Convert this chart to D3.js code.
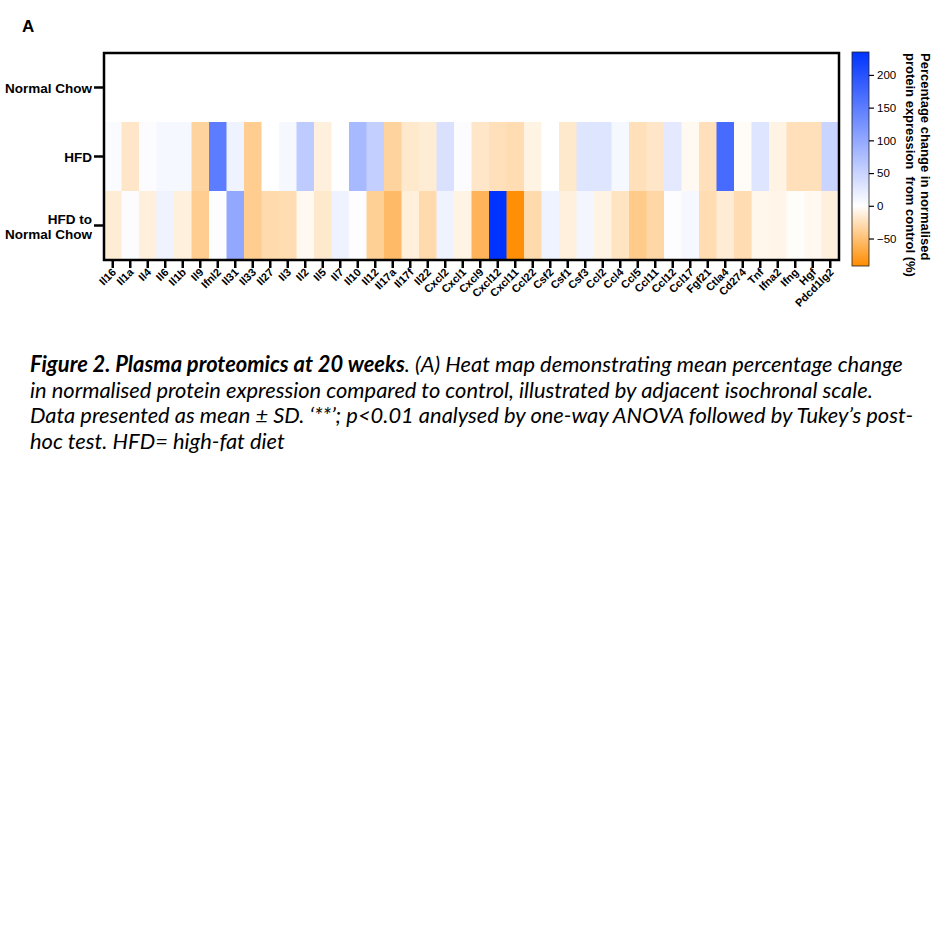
<!DOCTYPE html>
<html><head><meta charset="utf-8">
<script src="https://cdn.jsdelivr.net/npm/d3@7"></script>
<style>body{margin:0;background:#fff}svg{display:block}</style>
</head><body>
<svg id="c" width="945" height="945"></svg>
<script>
const proteins = ["Il16","Il1a","Il4","Il6","Il1b","Il9","Ifnl2","Il31","Il33","Il27","Il3","Il2","Il5","Il7","Il10","Il12","Il17a","Il17f","Il22","Cxcl2","Cxcl1","Cxcl9","Cxcl12","Cxcl11","Ccl22","Csf2","Csf1","Csf3","Ccl2","Ccl4","Ccl5","Ccl11","Ccl12","Ccl17","Fgf21","Ctla4","Cd274","Tnf","Ifna2","Ifng","Hgf","Pdcd1lg2"];
const groups = ["Normal Chow","HFD","HFD to Normal Chow"];
const normalChow = [0,0,0,0,0,0,0,0,0,0,0,0,0,0,0,0,0,0,0,0,0,0,0,0,0,0,0,0,0,0,0,0,0,0,0,0,0,0,0,0,0,0];
const hfd = [5,-20,3,8,8,-35,150,15,-40,0,8,60,-12,0,80,55,-35,-18,-15,35,3,-20,-25,-28,-10,0,-18,30,30,8,-25,-20,25,-5,-25,170,-3,30,-10,-25,-25,50];
const hfdToNormalChow = [-15,3,-12,15,-12,-40,2,100,-40,-30,-28,-5,-18,15,2,-38,-55,-13,-30,15,-10,-60,235,-90,-30,15,-12,10,-10,-22,-42,-32,2,8,-28,-15,-28,-7,-8,-2,-5,-12];
const colorTicks = [-50,0,50,100,150,200];
const colorDomain = [-92,0,235];
const colorRange = ["#FF8C00","#FFFFFF","#0033FF"];

const svg = d3.select("#c");
const rows = [normalChow, hfd, hfdToNormalChow];
const cells = [];
rows.forEach((r,i)=>r.forEach((v,j)=>cells.push({g:groups[i], p:proteins[j], v})));

const x = d3.scaleBand().domain(proteins).range([104,839]);
const y = d3.scaleBand().domain(groups).range([53,260]);
const color = d3.scaleLinear().domain(colorDomain).range(colorRange);

svg.append("g").selectAll("rect").data(cells).join("rect")
  .attr("x",d=>x(d.p)).attr("y",d=>y(d.g))
  .attr("width",x.bandwidth()+0.5).attr("height",y.bandwidth()+0.5)
  .attr("fill",d=>color(d.v));

// frame
svg.append("rect").attr("x",104).attr("y",53).attr("width",735).attr("height",207)
  .attr("fill","none").attr("stroke","#000").attr("stroke-width",2.5);

// x axis
const xa = svg.append("g").attr("transform","translate(0,260)")
  .call(d3.axisBottom(x).tickSize(8).tickSizeOuter(0).tickFormat(""));
xa.select(".domain").remove();
xa.selectAll("line").attr("stroke","#000").attr("stroke-width",2.5);
xa.selectAll(".tick").append("text")
  .attr("transform","translate(4,13) rotate(-45)")
  .attr("text-anchor","end").attr("fill","#000")
  .style("font","bold 11px 'Liberation Sans', Arial, sans-serif")
  .text(d=>d);

// y axis
const ya = svg.append("g").attr("transform","translate(104,0)")
  .call(d3.axisLeft(y).tickSize(10).tickSizeOuter(0).tickFormat(""));
ya.select(".domain").remove();
ya.selectAll("line").attr("stroke","#000").attr("stroke-width",2.5);
ya.selectAll(".tick").each(function(d){
  const t = d3.select(this).append("text").attr("text-anchor","end").attr("fill","#000")
    .style("font","bold 13.5px 'Liberation Sans', Arial, sans-serif");
  if(d==="HFD to Normal Chow"){
    t.append("tspan").attr("x",-12).attr("y",-2).text("HFD to");
    t.append("tspan").attr("x",-12).attr("y",13).text("Normal Chow");
  } else {
    t.attr("x",-12).attr("y",5).text(d);
  }
});

// colorbar
const cb = d3.scaleLinear().domain([colorDomain[0],colorDomain[2]]).range([266,52]);
const defs = svg.append("defs");
const grad = defs.append("linearGradient").attr("id","cbg").attr("x1",0).attr("y1",1).attr("x2",0).attr("y2",0);
colorDomain.forEach(v=>grad.append("stop")
  .attr("offset",(v-colorDomain[0])/(colorDomain[2]-colorDomain[0]))
  .attr("stop-color",color(v)));
svg.append("rect").attr("x",852).attr("y",52).attr("width",17).attr("height",214)
  .attr("fill","url(#cbg)").attr("stroke","#222").attr("stroke-width",0.8);
const ca = svg.append("g").attr("transform","translate(869,0)")
  .call(d3.axisRight(cb).tickValues(colorTicks).tickSize(5));
ca.select(".domain").remove();
ca.selectAll("line").attr("stroke","#000").attr("stroke-width",1.2);
ca.selectAll("text").attr("x",8).attr("fill","#000")
  .style("font","11.5px 'Liberation Sans', Arial, sans-serif");

// colorbar title
const ttl = svg.append("text").attr("transform","translate(921,53) rotate(90)")
  .style("font","bold 13px 'Liberation Sans', Arial, sans-serif").attr("fill","#000");
ttl.append("tspan").attr("x",0).attr("y",0).text("Percentage change in normalised");
ttl.append("tspan").attr("x",0).attr("y",15.5).attr("xml:space","preserve").text("protein expression  from control (%)");

// panel letter
svg.append("text").attr("x",22).attr("y",32)
  .style("font","bold 17px 'Liberation Sans', Arial, sans-serif").text("A");

// caption
const capLines = [
  [["Figure 2. Plasma proteomics at 20 weeks","bold"],[". (A) Heat map demonstrating mean percentage change","normal"]],
  [["in normalised protein expression compared to control, illustrated by adjacent isochronal scale.","normal"]],
  [["Data presented as mean \u00b1 SD. \u2018**\u2019; p<0.01 analysed by one-way ANOVA followed by Tukey\u2019s post-","normal"]],
  [["hoc test. HFD= high-fat diet","normal"]]
];
const cap = svg.append("g");
const capTexts = capLines.map((ln,i)=>{
  const t = cap.append("text").attr("x",30).attr("y",372+i*25.5)
    .style("font-family","Lato, 'Open Sans', sans-serif").style("font-style","italic")
    .style("font-size","19px").attr("fill","#000");
  ln.forEach(([s,w])=>t.append("tspan").style("font-weight",w).text(s));
  return t;
});
const w0 = capTexts[0].node().getComputedTextLength();
const fs = 19*873/w0;
capTexts.forEach(t=>t.style("font-size",fs+"px"));
</script>
</body></html>
